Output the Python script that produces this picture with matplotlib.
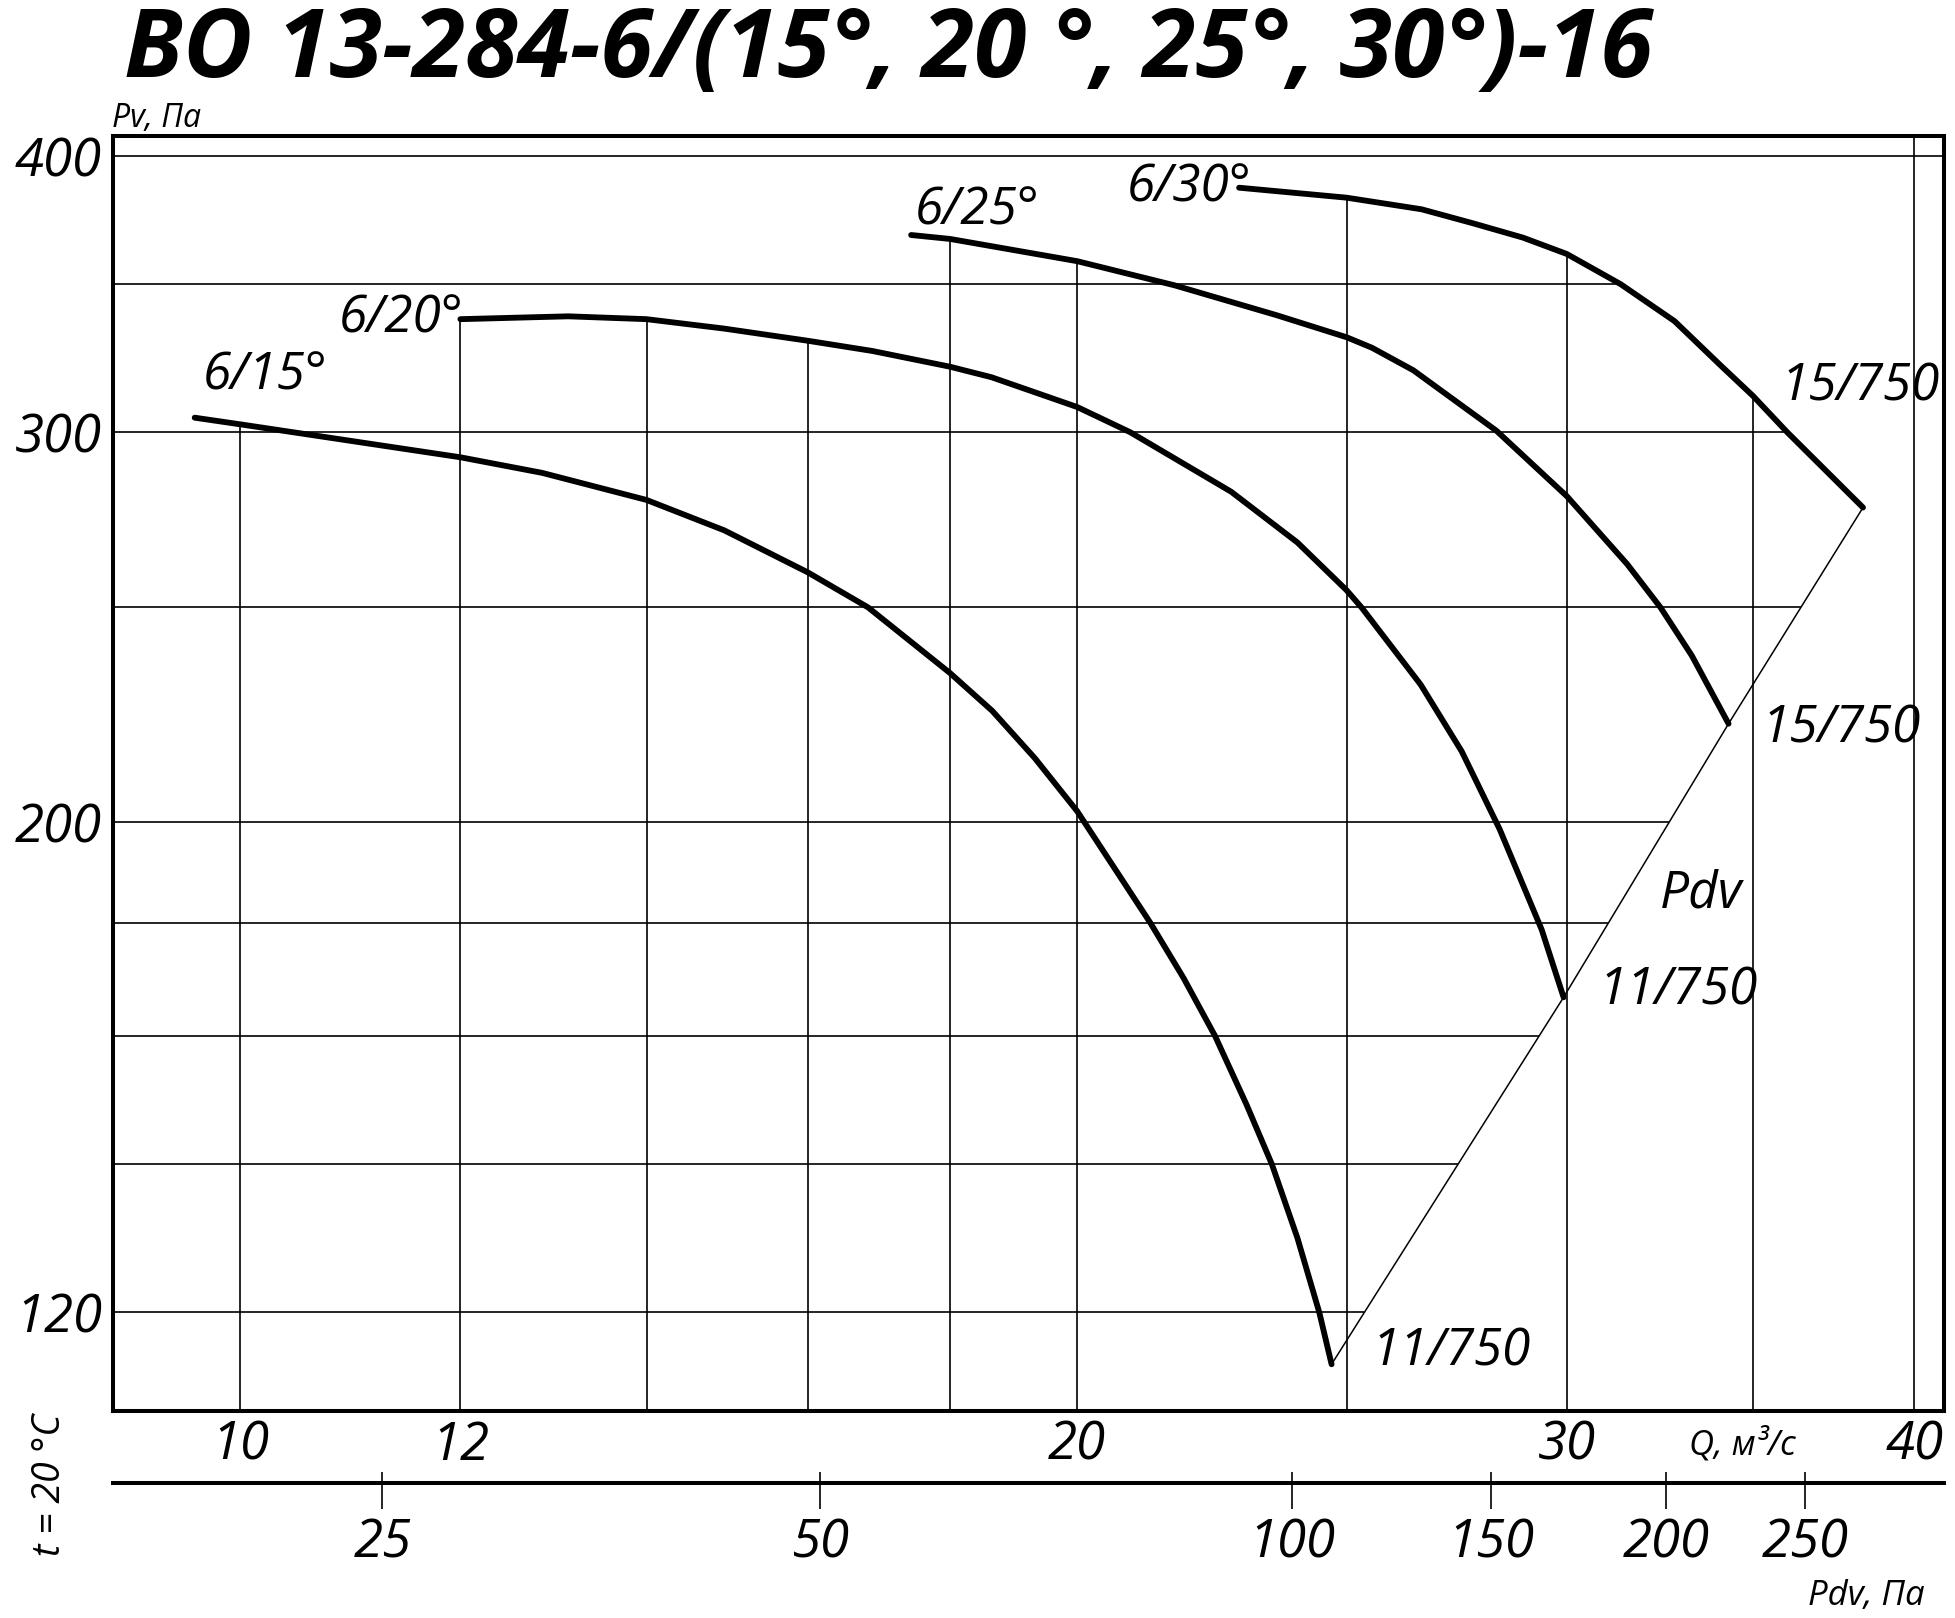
import numpy as np
import matplotlib
matplotlib.use("Agg")
import matplotlib.pyplot as plt
import matplotlib.ticker as mticker

# ---------------- data ----------------
q_15 = [9.63, 10.0, 10.81, 12.0, 12.84, 14.0, 14.93, 16.0, 16.82, 18.0, 18.64, 19.31, 20.0,
        21.25, 21.84, 22.42, 23.01, 23.5, 24.0, 24.44, 24.69]
p_15 = [304.6, 302.5, 298.1, 292.3, 287.6, 279.6, 270.9, 259.3, 250.0, 233.5, 224.5, 213.7, 202.2,
        180.0, 170.0, 160.0, 149.0, 140.0, 129.7, 120.0, 113.7]

q_20 = [12.0, 13.12, 14.0, 14.93, 16.0, 16.88, 18.0, 18.63, 20.0, 20.9, 22.72, 24.0, 25.0,
        25.31, 26.58, 27.5, 28.38, 29.38, 29.92]
p_20 = [337.5, 338.5, 337.5, 334.2, 330.0, 326.5, 321.2, 317.7, 308.0, 300.0, 282.0, 267.5, 254.5,
        250.0, 230.7, 215.2, 198.4, 178.8, 166.6]

q_25 = [17.43, 18.0, 20.0, 21.68, 23.59, 25.0, 25.53, 26.42, 28.3, 30.0, 31.54, 32.42, 33.27, 34.3]
p_25 = [368.4, 366.9, 358.5, 349.6, 338.9, 331.2, 327.6, 320.0, 300.5, 280.7, 261.5, 250.0, 237.8, 221.5]

q_30 = [22.87, 25.0, 26.6, 27.74, 28.93, 30.0, 31.37, 32.8, 34.07, 35.0, 36.01, 38.34]
p_30 = [387.0, 383.0, 378.4, 373.0, 367.4, 361.2, 350.0, 336.8, 321.7, 311.6, 300.0, 277.4]

curve_names = ["6/15°", "6/20°", "6/25°", "6/30°"]
end_labels = ["11/750", "11/750", "15/750", "15/750"]

x_grid = [10, 12, 14, 16, 18, 20, 25, 30, 35, 40]
y_grid = [400, 350, 300, 250, 200, 180, 160, 140, 120]
x_ticks = [10, 12, 20, 30, 40]
y_ticks = [400, 300, 200, 120]

pdv_labels = ["25", "50", "100", "150", "200", "250"]
pdv_tick_q = [11.25, 16.16, 23.90, 28.17, 32.58, 36.54]

# text anchor positions in data units (Q, Pv)
name_pos = [(9.697, 313.6), (10.85, 332.7), (17.48, 372.6), (20.84, 381.6)]
end_pos = [(25.53, 113.6), (30.81, 165.4), (35.26, 217.2), (35.8, 310.0)]
pdv_text_pos = (32.4, 183.0)

XLIM = (9.0, 41.0)
YLIM = (108.3, 408.4)

# ---------------- figure ----------------
FONT = ["Open Sans", "DejaVu Sans"]
W, H = 1956, 1618
fig = plt.figure(figsize=(W / 100, H / 100), dpi=100)
ax = fig.add_axes([113 / W, (H - 1411) / H, (1944 - 113) / W, (1411 - 136) / H])
ax.set_xscale("log")
ax.set_yscale("log")
ax.set_xlim(*XLIM)
ax.set_ylim(*YLIM)

for s in ax.spines.values():
    s.set_linewidth(2.9)
    s.set_color("black")

ax.set_xticks(x_ticks)
ax.set_xticklabels([str(v) for v in x_ticks])
ax.set_yticks(y_ticks)
ax.set_yticklabels([str(v) for v in y_ticks])
ax.minorticks_off()
ax.tick_params(axis="both", length=0)
ax.tick_params(axis="x", pad=6)
ax.tick_params(axis="y", pad=8)
for lab in ax.get_xticklabels() + ax.get_yticklabels():
    lab.set_family(FONT)
    lab.set_style("italic")
    lab.set_fontsize(38)

curves = [(q_15, p_15), (q_20, p_20), (q_25, p_25), (q_30, p_30)]

# vertical grid lines: from bottom up to the highest curve above them
for xv in x_grid:
    tops = []
    for q, p in curves:
        if q[0] <= xv <= q[-1]:
            tops.append(10 ** np.interp(np.log10(xv), np.log10(q), np.log10(p)))
    top = max(tops) if tops else YLIM[1]
    ax.plot([xv, xv], [YLIM[0], top], color="black", lw=1.2, zorder=1, solid_capstyle="butt")

# right boundary: 6/30 curve followed by the Pdv line through curve ends
bq = list(q_30) + [q_25[-1], q_20[-1], q_15[-1]]
bp = list(p_30) + [p_25[-1], p_20[-1], p_15[-1]]
for yh in y_grid:
    if yh > bp[0]:
        right = XLIM[1]
    else:
        right = 10 ** np.interp(np.log10(yh), np.log10(bp[::-1]), np.log10(bq[::-1]))
    ax.plot([XLIM[0], right], [yh, yh], color="black", lw=1.2, zorder=1, solid_capstyle="butt")

# curves
for (q, p) in curves:
    ax.plot(q, p, color="black", lw=4.2, zorder=3, solid_capstyle="round", solid_joinstyle="round")

# Pdv line through curve end points
ax.plot([q_15[-1], q_20[-1], q_25[-1], q_30[-1]], [p_15[-1], p_20[-1], p_25[-1], p_30[-1]],
        color="black", lw=1.1, zorder=2)

# curve labels
for name, (x, y) in zip(curve_names, name_pos):
    ax.text(x, y, name, family=FONT, style="italic", fontsize=37, ha="left", va="baseline")
for name, (x, y) in zip(end_labels, end_pos):
    ax.text(x, y, name, family=FONT, style="italic", fontsize=37, ha="left", va="baseline")
ax.text(pdv_text_pos[0], pdv_text_pos[1], "Pdv", family=FONT, style="italic", fontsize=37,
        ha="left", va="baseline")

# secondary dynamic-pressure scale
ax2 = fig.add_axes([113 / W, (H - 1482.7) / H, (1944 - 113) / W, 0.0005])
ax2.set_xscale("log")
ax2.set_xlim(*XLIM)
ax2.set_yticks([])
for k in ["top", "left", "right"]:
    ax2.spines[k].set_visible(False)
ax2.spines["bottom"].set_linewidth(2.9)
ax2.patch.set_visible(False)
ax2.set_xticks(pdv_tick_q)
ax2.set_xticklabels(pdv_labels)
ax2.tick_params(axis="x", which="major", direction="out", length=19, width=1.2, pad=6)
ax2.xaxis.set_minor_locator(mticker.FixedLocator(pdv_tick_q))
ax2.xaxis.set_minor_formatter(mticker.NullFormatter())
ax2.xaxis.remove_overlapping_locs = False
ax2.tick_params(axis="x", which="minor", direction="in", length=8, width=1.2)
for lab in ax2.get_xticklabels():
    lab.set_family(FONT)
    lab.set_style("italic")
    lab.set_fontsize(38)

# figure texts
fig.text(124 / W, 1 - 77 / H, "ВО 13-284-6/(15°, 20 °, 25°, 30°)-16", family=FONT,
         style="italic", weight="bold", fontsize=68.5, ha="left", va="baseline")
fig.text(112 / W, 1 - 127 / H, "Pv, Па", family=FONT, style="italic", fontsize=23,
         ha="left", va="baseline")
fig.text(1689 / W, 1 - 1455 / H, "Q, м³/с", family=FONT, style="italic", fontsize=25,
         ha="left", va="baseline")
fig.text(1808 / W, 1 - 1605 / H, "Pdv, Па", family=FONT, style="italic", fontsize=25,
         ha="left", va="baseline")
fig.text(50 / W, 1 - 1485 / H, "t = 20 °C", family=FONT, style="italic", fontsize=27,
         ha="center", va="center", rotation=90)

fig.savefig("out.png", dpi=100, facecolor="white")
